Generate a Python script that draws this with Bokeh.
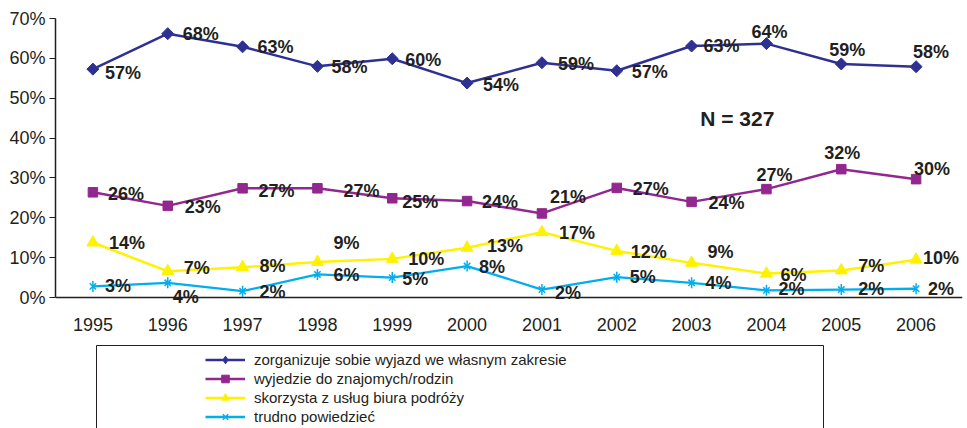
import math
from bokeh.plotting import figure
from bokeh.models import (ColumnDataSource, Range1d, Legend, LegendItem,
                          Label, FixedTicker, Span)
from bokeh.layouts import column
from bokeh.embed import file_html
from bokeh.resources import INLINE
from bokeh.core.properties import value

# ---------------- data ----------------
years = [1995, 1996, 1997, 1998, 1999, 2000, 2001, 2002, 2003, 2004, 2005, 2006]
year_labels = ["1995", "1996", "1997", "1998", "1999", "2000",
               "2001", "2002", "2003", "2004", "2005", "2006"]

series_names = ["zorganizuje sobie wyjazd we własnym zakresie",
                "wyjedzie do znajomych/rodzin",
                "skorzysta z usług biura podróży",
                "trudno powiedzieć"]

organize = [57.3, 66.2, 62.9, 58.0, 59.9, 53.8, 58.9, 56.9, 63.1, 63.7, 58.6, 57.9]
organize_labels = ["57%", "68%", "63%", "58%", "60%", "54%", "59%", "57%", "63%", "64%", "59%", "58%"]

friends = [26.4, 23.0, 27.4, 27.4, 24.9, 24.2, 21.1, 27.5, 24.0, 27.2, 32.2, 29.7]
friends_labels = ["26%", "23%", "27%", "27%", "25%", "24%", "21%", "27%", "24%", "27%", "32%", "30%"]

agency = [13.8, 6.6, 7.6, 8.9, 9.7, 12.5, 16.4, 11.7, 8.7, 6.0, 6.8, 9.5]
agency_labels = ["14%", "7%", "8%", "9%", "10%", "13%", "17%", "12%", "9%", "6%", "7%", "10%"]

unsure = [2.8, 3.7, 1.6, 5.8, 5.0, 7.9, 2.0, 5.1, 3.7, 1.8, 2.0, 2.2]
unsure_labels = ["3%", "4%", "2%", "6%", "5%", "8%", "2%", "5%", "4%", "2%", "2%", "2%"]

y_ticks = [0, 10, 20, 30, 40, 50, 60, 70]
sample_note = "N = 327"

# ---------------- label placement (screen px offsets) ----------------
organize_dx = [12, 15, 15, 14, 13, 16, 16, 15, 12, -15, -12, -3]
organize_dy = [4, 0, 0, 1, 1, 2, 1, 1, 0, -12, -14, -15]
friends_dx = [15, 17, 16, 26, 10, 15, 8, 16, 17, -10, -17, -2]
friends_dy = [2, 1, 3, 3, 4, 1, -16, 1, 1, -14, -16, -10]
agency_dx = [16, 16, 17, 16, 16, 20, 17, 14, 16, 14, 17, 7]
agency_dy = [0, -3, -1, -19, 0, -2, 1, 1, -11, 1, -4, -2]
unsure_dx = [12, 5, 17, 16, 10, 12, 13, 13, 14, 12, 17, 12]
unsure_dy = [0, 14, 1, 1, 1, 1, 3, 0, 0, -1, -1, 0]

INK = "#231f20"
BLUE = "#2e3192"
PURPLE = "#92278f"
YELLOW = "#fff200"
CYAN = "#00aeef"
FONT = "Liberation Sans"

W = 967
BL, BR = 55, 5  # shared side borders so the column keeps both frames aligned

# ---------------- chart ----------------
p = figure(width=W, height=338,
           x_range=Range1d(1994.5, 2006.62),
           y_range=Range1d(-3, 70), output_backend="svg", toolbar_location=None,
           min_border_left=BL, min_border_right=BR, min_border_top=18, min_border_bottom=29)
p.outline_line_color = None
p.xgrid.visible = False
p.ygrid.visible = False

xa = p.xaxis[0]
xa.ticker = FixedTicker(ticks=years)
xa.major_label_overrides = dict(zip(years, year_labels))
xa.axis_line_color = None
xa.major_tick_line_color = None
xa.minor_tick_line_color = None
xa.major_tick_out = 0
xa.major_tick_in = 0
xa.minor_tick_out = 0
xa.minor_tick_in = 0
xa.major_label_standoff = 8
xa.major_label_text_font = FONT
xa.major_label_text_font_size = "18px"
xa.major_label_text_color = INK

ya = p.yaxis[0]
ya.ticker = FixedTicker(ticks=y_ticks)
ya.bounds = (0, 70)
ya.major_label_overrides = {t: f"{t}%" for t in y_ticks}
ya.axis_line_color = INK
ya.axis_line_width = 1.5
ya.major_tick_line_color = INK
ya.major_tick_out = 6
ya.major_tick_in = 0
ya.minor_tick_out = 0
ya.minor_tick_in = 0
ya.major_label_standoff = 4
ya.major_label_text_font = FONT
ya.major_label_text_font_size = "18px"
ya.major_label_text_color = INK

# category axis baseline at 0 %
p.add_layout(Span(location=0, dimension="width", line_color=INK, line_width=1.5))

def make_src(vals, labels, dx, dy):
    return ColumnDataSource(dict(x=years, y=vals, t=labels, dx=dx, dy=dy))

src_o = make_src(organize, organize_labels, organize_dx, organize_dy)
src_f = make_src(friends, friends_labels, friends_dx, friends_dy)
src_a = make_src(agency, agency_labels, agency_dx, agency_dy)
src_u = make_src(unsure, unsure_labels, unsure_dx, unsure_dy)

p.line("x", "y", source=src_o, line_color=BLUE, line_width=2.5)
p.scatter("x", "y", source=src_o, marker="square", angle=math.pi / 4, size=8.5,
          fill_color=BLUE, line_color=BLUE)
p.line("x", "y", source=src_f, line_color=PURPLE, line_width=2.5)
p.scatter("x", "y", source=src_f, marker="square", size=9.5,
          fill_color=PURPLE, line_color=PURPLE)
p.line("x", "y", source=src_a, line_color=YELLOW, line_width=2.5)
p.scatter("x", "y", source=src_a, marker="triangle", size=12,
          fill_color=YELLOW, line_color=YELLOW)
p.line("x", "y", source=src_u, line_color=CYAN, line_width=2.3)
p.scatter("x", "y", source=src_u, marker="x", size=9, line_color=CYAN, line_width=1.5)
p.scatter("x", "y", source=src_u, marker="dash", angle=math.pi / 2, size=11,
          line_color=CYAN, line_width=1.5)

for src in (src_o, src_f, src_a, src_u):
    p.text("x", "y", text="t", source=src, x_offset="dx", y_offset="dy",
           text_font=value(FONT), text_font_style="bold", text_font_size="18px",
           text_color=INK, text_align="left", text_baseline="middle")

p.add_layout(Label(x=2003.61, y=45, text=sample_note, text_align="center",
                   text_baseline="middle", text_font=FONT, text_font_style="bold",
                   text_font_size="21px", text_color=INK))

# ---------------- legend panel (pixel coordinates of the page) ----------------
p2 = figure(width=W, height=90, x_range=Range1d(BL, W - BR), y_range=Range1d(428, 338),
            output_backend="svg", toolbar_location=None,
            x_axis_location=None, y_axis_location=None,
            min_border_left=BL, min_border_right=BR, min_border_top=0, min_border_bottom=0)
p2.outline_line_color = None
p2.xgrid.visible = False
p2.ygrid.visible = False

# legend frame
p2.quad(left=[96], right=[823], top=[345], bottom=[440],
        fill_alpha=0, line_color=INK, line_width=1)

# legend swatches (off-range samples, only used by the legend)
off = dict(x=[0, 1], y=[0, 0])
items = []
l = p2.line("x", "y", source=ColumnDataSource(off), line_color=BLUE, line_width=2.5)
s = p2.scatter([0], [0], marker="diamond", size=13, fill_color=BLUE, line_color=BLUE)
items.append(LegendItem(label=series_names[0], renderers=[l, s]))
l = p2.line("x", "y", source=ColumnDataSource(off), line_color=PURPLE, line_width=2.5)
s = p2.scatter([0], [0], marker="square", size=9, fill_color=PURPLE, line_color=PURPLE)
items.append(LegendItem(label=series_names[1], renderers=[l, s]))
l = p2.line("x", "y", source=ColumnDataSource(off), line_color=YELLOW, line_width=2.5)
s = p2.scatter([0], [0], marker="triangle", size=11, fill_color=YELLOW, line_color=YELLOW)
items.append(LegendItem(label=series_names[2], renderers=[l, s]))
l = p2.line("x", "y", source=ColumnDataSource(off), line_color=CYAN, line_width=2.3)
s = p2.scatter([0], [0], marker="x", size=9, line_color=CYAN, line_width=1.5)
items.append(LegendItem(label=series_names[3], renderers=[l, s]))

legend = Legend(items=items, location=(150, 2), padding=0, spacing=0, margin=0,
                glyph_width=40, glyph_height=19, label_height=19, label_standoff=9,
                label_text_font=FONT, label_text_font_size="15px", label_text_color=INK,
                border_line_color=None, background_fill_alpha=0)
p2.add_layout(legend, "center")

layout = column(p, p2, spacing=0)
open("out.html", "w").write(file_html(layout, INLINE))
